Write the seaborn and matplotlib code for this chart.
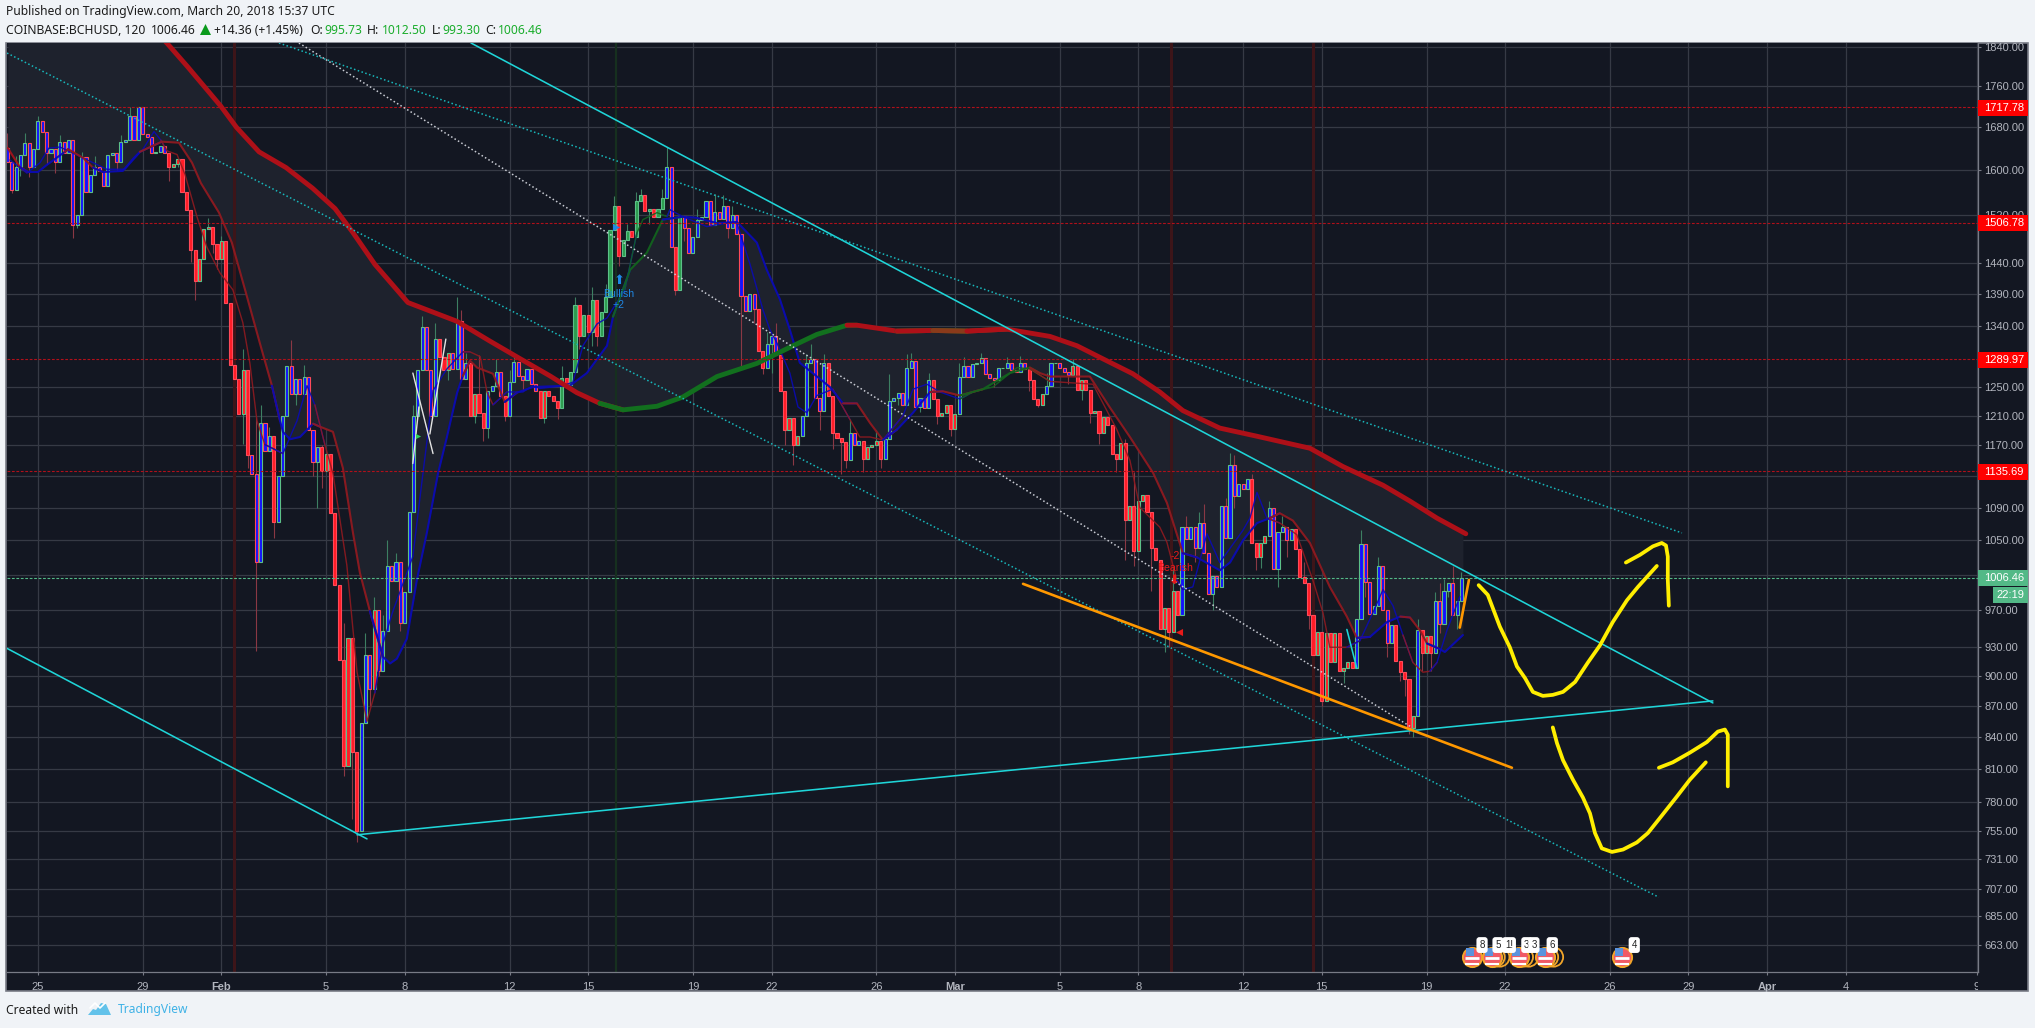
import numpy as np
import pandas as pd
import matplotlib
matplotlib.use('Agg')
import matplotlib.pyplot as plt
import seaborn as sns
from matplotlib.patches import Rectangle, Polygon
from matplotlib.transforms import Bbox

W, H = 2035, 1028

# closing price of each bar, bar 0 sits just before Jan 25
closes = [
    1615, 1564, 1606, 1627, 1650, 1605, 1638, 1692, 1671, 1630,
    1638, 1615, 1652, 1630, 1655, 1503, 1520, 1624, 1561, 1591,
    1606, 1597, 1570, 1627, 1631, 1615, 1652, 1656, 1700, 1655,
    1719, 1666, 1661, 1630, 1633, 1644, 1630, 1605, 1611, 1619,
    1561, 1529, 1461, 1410, 1446, 1496, 1500, 1470, 1446, 1475,
    1375, 1282, 1262, 1212, 1275, 1157, 1133, 1025, 1200, 1162,
    1183, 1072, 1130, 1210, 1280, 1240, 1262, 1240, 1265, 1190,
    1148, 1168, 1136, 1158, 1083, 998, 917, 813, 940, 826,
    755, 853, 922, 887, 970, 905, 947, 1020, 1003, 1025,
    956, 990, 1084, 1210, 1275, 1338, 1274, 1210, 1320, 1293,
    1275, 1300, 1276, 1347, 1262, 1285, 1209, 1240, 1214, 1193,
    1245, 1252, 1272, 1238, 1209, 1257, 1286, 1266, 1260, 1276,
    1254, 1244, 1207, 1244, 1238, 1231, 1220, 1263, 1253, 1272,
    1372, 1325, 1356, 1330, 1380, 1325, 1362, 1384, 1495, 1535,
    1450, 1478, 1492, 1482, 1545, 1555, 1527, 1530, 1517, 1530,
    1550, 1605, 1465, 1395, 1518, 1497, 1456, 1483, 1512, 1517,
    1545, 1503, 1525, 1513, 1535, 1497, 1520, 1488, 1387, 1363,
    1390, 1366, 1302, 1278, 1313, 1324, 1296, 1245, 1190, 1207,
    1170, 1183, 1210, 1285, 1290, 1235, 1217, 1285, 1237, 1186,
    1180, 1174, 1150, 1187, 1170, 1176, 1152, 1167, 1170, 1175,
    1152, 1178, 1230, 1235, 1242, 1225, 1278, 1288, 1222, 1235,
    1220, 1260, 1233, 1210, 1213, 1225, 1192, 1212, 1265, 1280,
    1264, 1283, 1285, 1292, 1268, 1263, 1260, 1277, 1278, 1284,
    1275, 1272, 1284, 1276, 1260, 1233, 1225, 1240, 1252, 1285,
    1285, 1277, 1272, 1267, 1280, 1246, 1260, 1246, 1213, 1217,
    1186, 1208, 1197, 1158, 1152, 1173, 1075, 1092, 1037, 1098,
    1106, 1084, 1041, 1027, 950, 972, 946, 991, 965, 1066,
    1052, 1066, 1041, 1071, 1035, 988, 1009, 996, 1092, 1053,
    1144, 1105, 1120, 1113, 1126, 1047, 1030, 1047, 1055, 1090,
    1017, 1060, 1066, 1050, 1064, 1040, 1007, 1000, 965, 922,
    946, 875, 945, 915, 945, 905, 908, 915, 908, 960,
    1046, 1002, 966, 975, 1020, 970, 934, 954, 916, 904,
    897, 848, 860, 948, 924, 942, 924, 980, 955, 991,
    1001, 965, 980, 1006.46,
]

# wicks that stand out from the bodies
high_bars = [0, 4, 17, 28, 46, 49, 54, 55, 57, 58, 60, 65, 68, 76, 77, 82, 87, 89, 95, 103,
             104, 108, 112, 130, 139, 142, 145, 151, 162, 164, 176, 184, 187, 202, 206, 211,
             219, 229, 256, 258, 270, 274, 279, 281, 285, 289, 310, 314, 328, 331, 333]
high_prices = [1668, 1669, 1632, 1719, 1515, 1484, 1305, 1180, 1208, 1225, 1195, 1318, 1282,
               984, 956, 945, 1050, 1035, 1355, 1385, 1365, 1297, 1290, 1385, 1553, 1505, 1565,
               1642, 1557, 1555, 1345, 1312, 1298, 1268, 1298, 1270, 1294, 1294, 1178, 1135,
               1079, 1095, 1102, 1157, 1133, 1098, 1062, 1030, 1000, 1020, 1012.5]
low_bars = [1, 3, 5, 15, 16, 37, 42, 43, 48, 54, 55, 57, 61, 71, 76, 77, 79, 80, 81, 85, 90,
            107, 110, 114, 123, 134, 135, 153, 168, 173, 175, 178, 180, 191, 196, 200, 213,
            216, 236, 246, 250, 256, 262, 265, 276, 287, 291, 301, 306, 320, 321, 322, 326, 332]
low_prices = [1558, 1588, 1587, 1481, 1497, 1579, 1441, 1380, 1429, 1171, 1140, 926, 1053, 1090,
              939, 803, 765, 745, 776, 900, 947, 1200, 1180, 1203, 1200, 1310, 1310, 1388, 1280,
              1268, 1270, 1170, 1144, 1132, 1135, 1140, 1198, 1183, 1222, 1232, 1172, 1027, 991,
              925, 970, 1018, 996, 870, 893, 880, 843, 840, 905, 950]
# the shorter wicks
short_high_bars = [2, 7, 12, 20, 26, 33, 72, 74, 84, 86, 93, 98, 105, 115, 116, 127, 134, 137, 144, 150,
                   158, 166, 174, 183, 193, 199, 207, 218, 223, 232, 238, 244, 253, 264, 267, 273,
                   280, 292, 297, 323, 327, 329]
short_high_prices = [1625, 1700, 1665, 1625, 1665, 1650, 1170, 1120, 985, 965, 1225, 1345, 1300, 1275,
                     1300, 1280, 1400, 1405, 1560, 1565, 1530, 1535, 1330, 1298, 1205, 1190, 1300,
                     1285, 1300, 1295, 1270, 1290, 1165, 1000, 1020, 1085, 1160, 1080, 1025, 960, 990, 1005]
short_low_bars = [9, 11, 25, 39, 47, 62, 66, 70, 72, 83, 87, 92, 101, 109, 118, 126, 131, 140, 147, 155,
                  157, 165, 171, 186, 189, 192, 204, 209, 218, 226, 234, 243, 248, 254, 258, 266,
                  272, 281, 286, 293, 298, 304, 311, 316, 319, 324, 328, 330]
short_low_prices = [1610, 1595, 1600, 1605, 1455, 1115, 1225, 1130, 1115, 870, 965, 1060, 1260, 1175,
                    1245, 1205, 1305, 1435, 1505, 1475, 1465, 1480, 1345, 1190, 1165, 1140, 1225, 1215,
                    1240, 1250, 1245, 1255, 1200, 1135, 1020, 930, 1025, 1090, 1015, 1030, 950, 925,
                    985, 920, 895, 905, 945, 985]

# body fill regime by starting bar
fill_starts = [0, 37, 56, 61, 62, 72, 81, 84, 85, 99, 102, 106, 110, 114, 115, 122, 127, 151, 153,
               155, 172, 174, 177, 182, 188, 193, 196, 201, 212, 218, 234, 238, 244, 269, 285,
               289, 295, 309, 318, 323, 324, 327]
fill_kinds = list('brbrbrbrbrbrbrbrgbgbrbrbrbrbrbrbrbrbrbrbrb'[:len(fill_starts)])

# 200 period average
slow_days = [-1.2, 2, 4.92, 5.71, 6.98, 7.58, 8.44, 9.47, 10.48, 11.34, 12.02, 12.86, 14.12, 15.99,
             17.25, 18.4, 19.54, 20.57, 21.45, 22.33, 23.63, 24.62, 25.92, 27.44, 28.82, 29.73,
             30.88, 31.26, 32.79, 34.16, 35.46, 36.98, 38.63, 39.66, 40.53, 41.79, 42.82, 43.7,
             45.11, 46.53, 48.55, 49.81, 51.34, 52.37, 53.4, 54.5]
slow_prices = [2210, 2020, 1848, 1799, 1720, 1679, 1633, 1604, 1567, 1531, 1490, 1437, 1376, 1347,
               1317, 1291, 1266, 1242, 1227, 1218, 1223, 1236, 1265, 1284, 1310, 1327, 1341, 1341,
               1332, 1333, 1332, 1335, 1324, 1310, 1293, 1269, 1243, 1217, 1193, 1182, 1166, 1142,
               1118, 1098, 1077, 1058]
slow_breaks = [-2, 22.33, 31.26, 33.4, 33.9, 34.6, 35.0, 36.98]
slow_colors = ['#ae1018', '#12701e', '#ae1018', '#12701e', '#ae1018', '#12701e', '#8a3a1a', '#ae1018']

# medium average, the band fills up to this one
mid_days = [-1.15, -0.69, -0.38, 0, 0.34, 1.03, 1.15, 1.72, 2.1, 2.48, 3.24, 3.63, 3.89, 4.73, 5.38,
            5.88, 6.22, 6.91, 7.4, 7.94, 8.47, 8.93, 9.24, 9.35, 9.62, 10, 10.5, 10.76, 11.26, 11.64,
            12.02, 12.29, 12.67, 13.17, 13.44, 13.7, 14.08, 14.47, 14.85, 15.27, 15.61, 16, 16.22,
            16.49, 16.76, 17.37, 17.82, 18.28, 18.89, 20.31, 20.95, 21.72, 21.95, 22.6, 23.24, 23.85,
            24.62, 25.15, 25.92, 26.68, 27.44, 27.82, 28.32, 28.7, 29.08, 30.23, 30.73, 31.26, 31.76,
            32.25, 32.79, 33.4, 34.05, 34.54, 35.19, 36.07, 37.1, 37.86, 38.24, 38.63, 40.15, 40.92,
            41.68, 42.56, 43.09, 43.7, 44.24, 45.11, 45.5, 45.99, 46.53, 47.02, 47.4, 47.9, 48.55,
            49.31, 49.96, 50.34, 50.84, 51.49, 52, 52.37, 52.75, 53.02, 53.44, 53.7, 54.39]
mid_prices = [1640, 1605, 1596, 1596, 1609, 1633, 1638, 1622, 1604, 1596, 1598, 1620, 1633, 1652, 1650,
              1613, 1576, 1524, 1473, 1391, 1314, 1252, 1203, 1188, 1178, 1181, 1199, 1195, 1188, 1140,
              1060, 1012, 969, 920, 913, 918, 939, 1005, 1060, 1133, 1181, 1242, 1266, 1288, 1278,
              1269, 1229, 1242, 1250, 1252, 1270, 1310, 1354, 1428, 1456, 1512, 1517, 1515, 1506, 1508,
              1473, 1428, 1381, 1334, 1285, 1250, 1227, 1227, 1200, 1177, 1191, 1214, 1243, 1244, 1238,
              1247, 1270, 1278, 1270, 1265, 1265, 1221, 1181, 1134, 1096, 1035, 1030, 1015, 1024, 1050,
              1071, 1077, 1083, 1074, 1047, 996, 963, 940, 941, 957, 963, 962, 948, 934, 929, 925, 943]
mid_breaks = [-2, -0.5, 1.15, 2.48, 4.73, 9.24, 10.76, 13.17, 16.49, 18.28, 22.6, 24.3, 31.26, 32.79,
              34.54, 35.5, 38.24, 44.24, 47.4, 50.84, 52.37, 53.44]
mid_colors = ['#a5141b', '#0a0ab4', '#8f1a20', '#0a0ab4', '#8f1a20', '#0a0ab4', '#8f1a20', '#0a0ab4',
              '#8f1a20', '#0a0ab4', '#12641e', '#0a0ab4', '#8f1a20', '#0a0ab4', '#8f1a20', '#12641e',
              '#8f1a20', '#0a0ab4', '#8f1a20', '#0a0ab4', '#8f1a20', '#0a0ab4']

# fast average
fast_days = [-1.07, -0.42, 0.08, 0.42, 0.84, 2.63, 3.32, 4.01, 4.43, 4.69, 4.92, 5.31, 5.61, 6.07, 6.45,
             6.95, 7.44, 7.82, 8.09, 8.36, 8.66, 9.35, 9.89, 10.27, 10.57, 10.95, 11.26, 11.79, 12.18,
             12.56, 12.86, 13.17, 13.55, 14.31, 14.58, 14.85, 15.08, 15.61, 16.22, 16.49, 16.88, 17.14,
             17.37, 17.9, 18.51, 18.89, 19.16, 20.04, 20.42, 20.8, 21.34, 21.72, 22.4, 22.86, 23.09,
             23.63, 24.01, 24.12, 24.62, 25.53, 26.3, 26.68, 27.18, 27.67, 27.94, 28.21, 28.7, 29.01,
             29.35, 29.73, 30.34, 30.99, 31.37, 31.76, 32.25, 33.02, 33.4, 33.93, 34.43, 35.19, 35.69,
             36.45, 37.37, 37.86, 38.63, 40.27, 41.18, 41.68, 42.06, 42.82, 43.09, 43.47, 43.7, 44.08,
             44.62, 45.11, 45.99, 46.26, 46.53, 46.91, 47.4, 48.05, 48.66, 49.05, 49.31, 49.96, 50.46,
             50.95, 51.34, 51.72, 52.1, 52.48, 52.86, 53.13, 53.4, 53.78, 54.27]
fast_prices = [1618, 1594, 1613, 1640, 1642, 1601, 1601, 1638, 1671, 1655, 1635, 1628, 1592, 1517, 1465,
               1423, 1396, 1345, 1284, 1203, 1171, 1159, 1203, 1252, 1225, 1171, 1133, 1021, 904,
               855, 883, 934, 969, 1031, 1102, 1176, 1245, 1276, 1301, 1301, 1294, 1243,
               1225, 1243, 1243, 1252, 1248, 1252, 1257, 1310, 1343, 1352, 1396, 1489, 1512,
               1524, 1517, 1529, 1517, 1500, 1506, 1506, 1437, 1365, 1334, 1314, 1270, 1222,
               1214, 1238, 1247, 1205, 1181, 1181, 1177, 1210, 1247, 1254, 1243, 1233, 1243,
               1250, 1278, 1276, 1258, 1254, 1191, 1150, 1090, 1066, 1048, 1004, 993, 996,
               1058, 1024, 1062, 1077, 1109, 1077, 1071, 1057, 1004, 967, 930, 930, 937,
               967, 993, 975, 943, 914, 904, 905, 914, 948, 985]
fast_breaks = [-2, 4.92, 9.1, 10.95, 13.0, 16.49, 17.9, 22.6, 24.12, 30.99, 33.02, 35.69, 38.63, 43.7,
               47.4, 50.46, 52.48, 53.4]
fast_colors = ['#0a0ab4', '#8f1a20', '#0a0ab4', '#8f1a20', '#0a0ab4', '#8f1a20', '#0a0ab4', '#12641e',
               '#0a0ab4', '#8f1a20', '#0a0ab4', '#12641e', '#8f1a20', '#0a0ab4', '#8f1a20', '#0a0ab4',
               '#8f1a20', '#0a0ab4']

# drawings: each one is (days, prices)
cyan_solid = [([16.53, 63.93], [1848, 873]), ([-1.22, 12.56], [929.4, 748]),
              ([12.18, 63.93], [751.5, 875]), ([49.96, 50.34], [949, 908])]
cyan_dotted = [([9.2, 62.75], [1848, 1059]), ([-1.18, 61.87], [1827, 700])]
white_dotted = ([9.96, 52.44], [1848, 849])
orange_lines = [([37.6, 56.26], [999.5, 811]), ([54.27, 54.62], [951, 1004])]
white_lines = [([14.31, 15.08], [1270, 1159]), ([14.31, 14.54], [1146, 1222]), ([14.96, 15.57], [1185, 1320])]
yellow_paths = [
    ([54.99, 55.34, 55.8, 56.18, 56.45, 56.76, 57.06, 57.44, 57.82, 58.21, 58.67, 59.16, 59.62, 60.11, 60.65, 61.07, 61.79],
     [998, 987, 952, 930, 910, 898, 884, 880, 881, 884, 894, 914, 932, 957, 981, 996, 1020]),
    ([60.61, 61.15, 61.64, 61.98, 62.14, 62.21, 62.21, 62.25],
     [1024, 1033, 1043, 1047, 1044, 1031, 1004, 975]),
    ([57.82, 57.98, 58.21, 58.59, 58.97, 59.24, 59.43, 59.69, 60.08, 60.5, 61.03, 61.45, 61.91, 62.56, 63.05, 63.66],
     [849, 834, 818, 800, 784, 770, 753, 740, 737, 739, 745, 753, 766, 785, 800, 816]),
    ([61.87, 62.4, 63.05, 63.7, 64.12, 64.39, 64.5, 64.5],
     [811, 816, 825, 835, 845, 847, 842, 794]),
]

y_ticks = [1840, 1760, 1680, 1600, 1520, 1440, 1390, 1340, 1250, 1210, 1170, 1130, 1090, 1050, 1010,
           970, 930, 900, 870, 840, 810, 780, 755, 731, 707, 685, 663]
x_tick_days = [0, 4, 7, 11, 14, 18, 21, 25, 28, 32, 35, 39, 42, 46, 49, 53, 56, 60, 63, 66, 69, 74]
x_tick_labels = ['25', '29', 'Feb', '5', '8', '12', '15', '19', '22', '26', 'Mar', '5', '8', '12', '15',
                 '19', '22', '26', '29', 'Apr', '4', '9']
level_prices = [1717.78, 1506.78, 1289.97, 1135.69]
red_band_days = [7.5, 43.25, 48.65]
event_days = [54.75, 55.5, 56.53, 57.52, 60.46]
extra_ring_days = [55.62, 55.8, 56.7, 56.9, 57.66, 57.85]
event_label_days = [55.12, 55.73, 56.15, 56.83, 57.1, 57.8, 60.93]
event_labels = ['8', '5', '1!', '3', '3', '6', '4']

BG = '#131722'
GRID = '#363a45'
AXIS = '#787b86'
LABEL = '#b2b5be'

sns.set_theme(style='dark', rc={'axes.facecolor': BG, 'figure.facecolor': '#f0f3f7'})
plt.rcParams['font.family'] = ['Liberation Sans', 'DejaVu Sans']


def px_x(x):
    return x / W


def px_y(y):
    return 1 - y / H


def draw_ma(days, prices, breaks, colors, lw, alpha=1.0):
    days = np.array(days)
    prices = np.array(prices)
    for k, start in enumerate(breaks):
        end = breaks[k + 1] if k + 1 < len(breaks) else 1000
        first = max(np.searchsorted(days, start) - 1, 0)
        last = np.searchsorted(days, end)
        sns.lineplot(x=days[first:last + 1], y=prices[first:last + 1], color=colors[k], lw=lw, alpha=alpha,
                     ax=ax, sort=False, estimator=None, errorbar=None, zorder=4)


fig = plt.figure(figsize=(W / 100, H / 100), dpi=100)
fig.add_artist(Rectangle((px_x(6), px_y(991)), 2022 / W, 948 / H, transform=fig.transFigure,
                         fc=BG, ec=AXIS, lw=1.2, zorder=-2))
ax = fig.add_axes([px_x(6.5), px_y(972), (1978 - 6.5) / W, (972 - 43) / H])
ax.set_facecolor(BG)
ax.set_yscale('log')
ax.set_xlim(-1.2, 74.05)
ax.set_ylim(643, 1848)

# axis ticks
ax.yaxis.tick_right()
ax.set_yticks(y_ticks)
ax.set_yticklabels([f'{t:.2f}' for t in y_ticks])
ax.yaxis.set_minor_locator(matplotlib.ticker.NullLocator())
ax.set_xticks(x_tick_days)
ax.set_xticklabels(x_tick_labels)
ax.tick_params(axis='both', which='major', colors=AXIS, labelcolor=LABEL, labelsize=8, length=2.5, width=0.8,
               bottom=True, right=True, left=False)
ax.tick_params(axis='y', pad=2)
ax.tick_params(axis='x', pad=4.5)
for lab in ax.get_xticklabels():
    if lab.get_text() in ('Feb', 'Mar', 'Apr'):
        lab.set_fontweight('bold')
    if lab.get_text() == '9':
        lab.set_clip_on(True)
        lab.set_clip_box(Bbox([[0, 0], [1978, H]]))
ax.grid(True, color=GRID, lw=0.9, zorder=0)
ax.set_axisbelow(True)
ax.set_xlabel('')
ax.set_ylabel('')
for side in ('top', 'left'):
    ax.spines[side].set_visible(False)
for side in ('right', 'bottom'):
    ax.spines[side].set_color(AXIS)
    ax.spines[side].set_linewidth(0.9)

# band between the averages
band_x = np.array(mid_days)
band_top = np.exp(np.interp(band_x, slow_days, np.log(slow_prices)))
ax.fill_between(band_x, band_top, mid_prices, color='#1e222d', lw=0, zorder=1)

# vertical markers
for d in red_band_days:
    ax.axvline(d, color='#3d1519', lw=2.2, zorder=1.5)
ax.axvline(22.07, color='#16301f', lw=1.6, zorder=1.5)

# candles
bars = pd.DataFrame({'close': closes})
bars['day'] = -7 / 6 + bars.index / 6
bars['open'] = bars['close'].shift(1).fillna(1640)
bars['top'] = bars[['open', 'close']].max(axis=1)
bars['bottom'] = bars[['open', 'close']].min(axis=1)
bars['high'] = bars['top']
bars['low'] = bars['bottom']
bars.loc[high_bars + short_high_bars, 'high'] = high_prices + short_high_prices
bars.loc[low_bars + short_low_bars, 'low'] = low_prices + short_low_prices
bars['high'] = bars[['high', 'top']].max(axis=1)
bars['low'] = bars[['low', 'bottom']].min(axis=1)
bars['up'] = bars['close'] >= bars['open']
bars['kind'] = pd.Series(fill_kinds, index=fill_starts).reindex(bars.index).ffill()

wick_colors = np.where(bars['up'], '#3d7f62', '#8a3844')
ax.vlines(bars['day'], bars['low'], bars['high'], colors=wick_colors, lw=0.8, zorder=3)
edge_colors = np.where(bars['up'], '#5cc088', '#ff4a5a')
fills = []
for up, kind in zip(bars['up'], bars['kind']):
    if kind == 'b':
        fills.append('#1212ff')
    elif kind == 'g' and up:
        fills.append('#2c9c4e')
    else:
        fills.append('#ff1c26')
ax.bar(bars['day'], bars['top'] - bars['bottom'], bottom=bars['bottom'], width=0.118, color=fills,
       edgecolor=edge_colors, lw=0.8, zorder=3.2)

# moving averages
draw_ma(fast_days, fast_prices, fast_breaks, fast_colors, 1.0, 0.9)
draw_ma(mid_days, mid_prices, mid_breaks, mid_colors, 1.5, 0.95)
draw_ma(slow_days, slow_prices, slow_breaks, slow_colors, 3.5, 1.0)

# price levels
for p in level_prices:
    ax.axhline(p, color='#b0101a', lw=0.8, ls=(0, (2.5, 1.5)), zorder=4.5)
ax.axhline(1006.46, color='#53b987', lw=0.8, ls=(0, (2.5, 1.5)), zorder=4.5)

# drawings
for xs, ys in cyan_solid:
    sns.lineplot(x=xs, y=ys, color='#1fd5d8', lw=1.15, ax=ax, estimator=None, errorbar=None, zorder=5)
for xs, ys in cyan_dotted:
    sns.lineplot(x=xs, y=ys, color='#18b8bc', lw=1.1, ls=(0, (1, 1.6)), ax=ax, estimator=None, errorbar=None, zorder=5)
sns.lineplot(x=white_dotted[0], y=white_dotted[1], color='#c9ccd4', lw=1.1, ls=(0, (1, 1.6)), ax=ax,
             estimator=None, errorbar=None, zorder=5)
for xs, ys in orange_lines:
    sns.lineplot(x=xs, y=ys, color='#ff9800', lw=1.9, ax=ax, estimator=None, errorbar=None, zorder=5)
for xs, ys in white_lines:
    sns.lineplot(x=xs, y=ys, color='#e4e4e4', lw=1.0, ax=ax, estimator=None, errorbar=None, zorder=5)
for xs, ys in yellow_paths:
    sns.lineplot(x=xs, y=ys, color='#ffee00', lw=2.7, ax=ax, sort=False, estimator=None, errorbar=None, zorder=6,
                 solid_joinstyle='round')

# signal labels
ax.text(22.18, 1390, 'Bullish', color='#1e88e5', fontsize=7.6, ha='center', va='center', zorder=6)
ax.text(22.18, 1372, '+2', color='#1e88e5', fontsize=7.6, ha='center', va='center', zorder=6)
ax.text(22.18, 1411, '\u2b06', color='#1e88e5', fontsize=9.5, ha='center', va='center', zorder=6,
        family='DejaVu Sans')
ax.scatter([22.06], [1500], marker='>', s=26, color='#1e88e5', lw=0, zorder=6)
ax.scatter([14.5], [1183], marker='>', s=14, color='#2fd060', lw=0, zorder=6)
ax.text(43.4, 1032, '-2', color='#e81a1a', fontsize=7.6, ha='center', va='center', zorder=6)
ax.text(43.4, 1018, 'Bearish', color='#e81a1a', fontsize=7.6, ha='center', va='center', zorder=6)
ax.text(43.36, 1004, '\u2b07', color='#e81a1a', fontsize=9.5, ha='center', va='center', zorder=6,
        family='DejaVu Sans')
ax.scatter([43.55], [946.5], marker='<', s=26, color='#e81a1a', lw=0, zorder=6)

# economic event flags
ax.scatter(extra_ring_days, [654] * len(extra_ring_days), s=190, facecolor='none', edgecolor='#f2a62a', lw=1.3, zorder=5.9)
ev_y = [654] * len(event_days)
ax.scatter(event_days, ev_y, s=190, facecolor='#f05a66', edgecolor='#f2a62a', lw=1.4, zorder=6)
ax.scatter(event_days, [653] * len(event_days), marker='_', s=110, color='white', lw=2.0, zorder=6.1)
ax.scatter(event_days, [649] * len(event_days), marker='_', s=110, color='white', lw=1.5, zorder=6.1)
ax.scatter(np.array(event_days) - 0.1, [658] * len(event_days), marker='s', s=36, color='#5b93dc', lw=0, zorder=6.2)
for d, t in zip(event_label_days, event_labels):
    ax.text(d, 663, t, color='#222', fontsize=7, ha='center', va='center', zorder=7,
            bbox=dict(boxstyle='round,pad=0.3', fc='white', ec='none'))

# price badges, top edge in pixels
badge_tops = [100, 215, 352, 464]
for p, top in zip(level_prices, badge_tops):
    fig.add_artist(Rectangle((px_x(1978), px_y(top + 16)), 50 / W, 16 / H, transform=fig.transFigure,
                             fc='#ff0000', ec='none', zorder=5))
    fig.text(px_x(1984), px_y(top + 8), f'{p:.2f}', color='white', fontsize=8, va='center', zorder=6)
fig.add_artist(Rectangle((px_x(1978), px_y(586)), 50 / W, 16 / H, transform=fig.transFigure,
                         fc='#53b987', ec='none', zorder=5))
fig.text(px_x(1984), px_y(578), '1006.46', color='white', fontsize=8, va='center', zorder=6)
fig.add_artist(Rectangle((px_x(1993), px_y(603)), 35 / W, 16 / H, transform=fig.transFigure,
                         fc='#53b987', ec='none', zorder=5))
fig.text(px_x(1996), px_y(595), '22:19', color='white', fontsize=8, va='center', zorder=6)

# header
HEAD = ['Noto Sans', 'DejaVu Sans']
fig.text(px_x(6), px_y(12), 'Published on TradingView.com, March 20, 2018 15:37 UTC', color='#1c1c1c',
         fontsize=8.7, va='center', family=HEAD)
head_dark = [(6, 'COINBASE:BCHUSD, 120', 'bold'), (151, '1006.46', 'normal'), (214, '+14.36 (+1.45%)', 'normal'),
             (310, 'O:', 'bold'), (367, 'H:', 'bold'), (432, 'L:', 'bold'), (485, 'C:', 'bold')]
for x, t, wt in head_dark:
    fs = 8.8 if wt == 'bold' else 8.7
    fig.text(px_x(x), px_y(30), t, color='#1c1c1c', fontsize=fs, va='center', family=HEAD, fontweight=wt)
for x, t in [(324, '995.73'), (382, '1012.50'), (442, '993.30'), (498, '1006.46')]:
    fig.text(px_x(x), px_y(30), t, color='#1aad2c', fontsize=8.7, va='center', family=HEAD)
fig.add_artist(Polygon([(px_x(200), px_y(35)), (px_x(211), px_y(35)), (px_x(205.5), px_y(24))],
                       transform=fig.transFigure, fc='#0a9a1c', ec='none'))

# footer
fig.text(px_x(6), px_y(1010), 'Created with', color='#1c1c1c', fontsize=8.7, va='center', family=HEAD)
fig.text(px_x(118), px_y(1010), 'TradingView', color='#3fb2e6', fontsize=8.7, va='center', family=HEAD)
logo = [(88, 1015), (93, 1009), (96, 1010), (101, 1003), (106, 1004), (111, 1015)]
fig.add_artist(Polygon([(px_x(x), px_y(y)) for x, y in logo], transform=fig.transFigure, fc='#62c2ea', ec='none'))
zig = [(90, 1008), (95, 1003), (100, 1008), (105, 1003)]
fig.add_artist(plt.Line2D([px_x(x) for x, _ in zig], [px_y(y) for _, y in zig], transform=fig.transFigure,
                          color='white', lw=1.2))

fig.savefig('out.png', dpi=100, facecolor=fig.get_facecolor())
